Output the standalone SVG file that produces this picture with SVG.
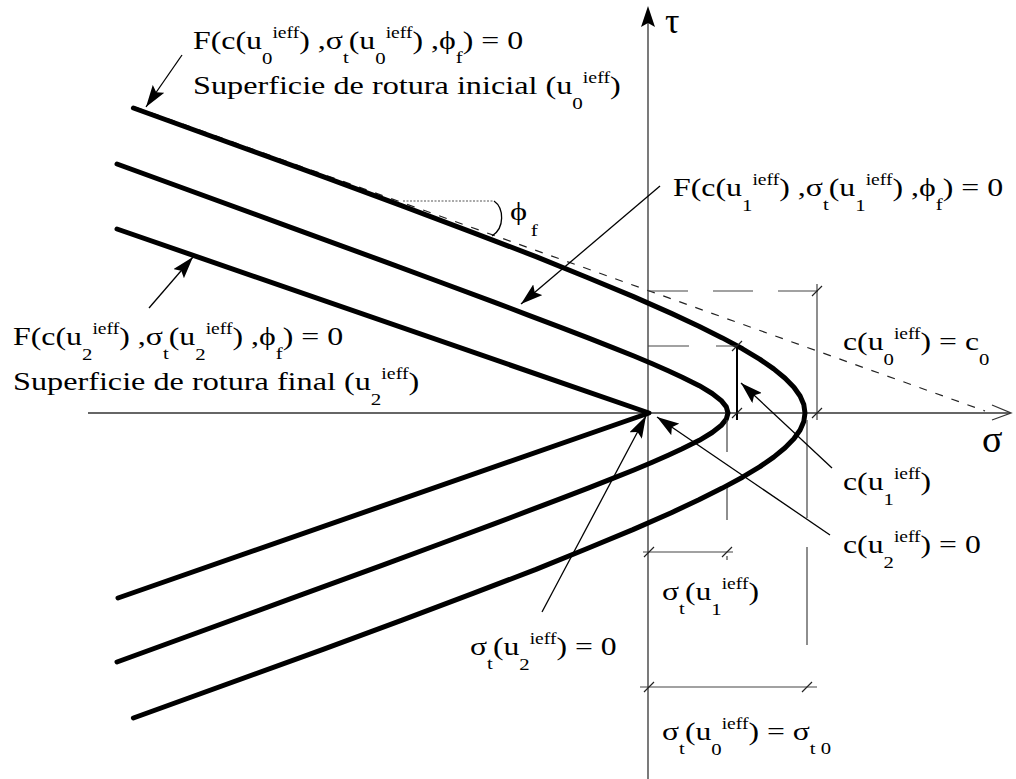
<svg xmlns="http://www.w3.org/2000/svg" width="1016" height="779" viewBox="0 0 1016 779">
<style>
text{font-family:"Liberation Serif","DejaVu Serif",serif;font-size:26px;fill:#000}
.sb{font-size:17px}
.sp{font-size:16px}
.crv{fill:none;stroke:#000;stroke-width:5;stroke-linejoin:round;stroke-linecap:round}
.ax{fill:none;stroke:#333;stroke-width:1.3}
.dim{fill:none;stroke:#444;stroke-width:1.2}
.ldr{fill:none;stroke:#000;stroke-width:1.3}
.tk{fill:none;stroke:#222;stroke-width:1.2}
</style>
<defs>
<marker id="ah" viewBox="0 0 22 14" refX="22" refY="7" markerWidth="22" markerHeight="14" markerUnits="userSpaceOnUse" orient="auto">
<path d="M0,0 L22,7 L0,14 L4,7 z" fill="#000"/>
</marker>
</defs>

<g id="axes">
<line class="ax" x1="88" y1="413" x2="1010" y2="413"/>
<path class="ax" d="M992,405 L1011,413 L992,420"/>
<line class="ax" x1="648" y1="779" x2="648" y2="9"/>
<path d="M648,6 L655,27 L648,23 L641,27 z" fill="#000"/>
<text x="665" y="33" style="font-size:36px">τ</text>
<text x="982" y="452" style="font-size:38px">σ</text>
</g>

<g id="tangent">
<line x1="135" y1="107" x2="985" y2="411" stroke="#222" stroke-width="1.2" stroke-dasharray="8 9"/>
<line x1="403" y1="201" x2="494" y2="201" stroke="#555" stroke-width="1.2" stroke-dasharray="2 1.5"/>
<path d="M494,201 C504,208 505,228 492,236" fill="none" stroke="#000" stroke-width="1.3"/>
<text transform="translate(510,220) scale(1.25,1)">ϕ<tspan class="sb" dx="3" dy="16">f</tspan></text>
</g>

<g id="curve0">
<path class="crv" d="M133.4,108 L323.8,176.9 L402.8,206.1 L473.7,232.9 L536,256.6 L587.3,277.5 L632.9,296.4 L671.9,313.6 L698.9,326.2 L722.3,337.9 L742.5,348.8 L759.6,359.1 L773.7,368.9 L785.1,378.3 L793.9,387.2 L800.1,396 L803.8,404.5 L805,413 L803.8,421.5 L800.1,430 L793.9,438.8 L785.1,447.7 L773.7,457.1 L759.6,466.9 L742.5,477.2 L722.3,488.1 L698.9,499.8 L671.9,512.4 L632.9,529.6 L587.3,548.5 L536,569.4 L473.7,593.1 L402.8,619.9 L323.8,649.1 L133.4,718"/>
</g>
<g id="curve1">
<path class="crv" d="M117,164 L290.8,227.3 L384,261.4 L442.5,283 L492.7,301.7 L528.9,315.3 L560.7,327.3 L588.1,337.9 L612.8,347.6 L634.5,356.3 L652.3,363.8 L668.2,370.7 L681.7,376.9 L699.3,385.7 L712.2,393.5 L721.1,400.4 L726.3,406.8 L728,413 L726.3,419.2 L721.1,425.6 L712.2,432.5 L699.3,440.3 L681.7,449.1 L668.2,455.3 L652.3,462.2 L634.5,469.7 L612.8,478.4 L588.1,488.1 L560.7,498.7 L528.9,510.7 L492.7,524.3 L442.5,543 L384,564.6 L290.8,598.7 L117,662"/>
</g>
<g id="curve2">
<path class="crv" d="M117,229 L649,413 L118,598"/>
</g>

<g id="dimensions">
<line class="dim" x1="648" y1="291" x2="820" y2="291" stroke-dasharray="40 25"/>
<line class="dim" x1="817" y1="284" x2="817" y2="420"/>
<line class="dim" x1="648" y1="346" x2="737" y2="346" stroke-dasharray="41 27"/>
<line x1="737" y1="346" x2="737" y2="420" stroke="#000" stroke-width="2"/>
<line class="dim" x1="727" y1="420" x2="727" y2="560" stroke-dasharray="32 36"/>
<line class="dim" x1="643" y1="552" x2="733" y2="552"/>
<line class="dim" x1="807" y1="420" x2="807" y2="655" stroke-dasharray="98 29"/>
<line class="dim" x1="640" y1="687" x2="817" y2="687"/>
<path class="tk" d="M812,296 L822,286 M812,418 L822,408 M732,351 L742,341 M732,418 L742,408 M644,557 L654,547 M722,557 L732,547 M644,692 L654,682 M802,692 L812,682"/>
</g>

<g id="connectors">
<line class="ldr" x1="182" y1="55" x2="146" y2="107" marker-end="url(#ah)"/>
<line class="ldr" x1="660" y1="186" x2="521" y2="304" marker-end="url(#ah)"/>
<line class="ldr" x1="149" y1="308" x2="193" y2="257" marker-end="url(#ah)"/>
<line class="ldr" x1="542" y1="612" x2="646" y2="416" marker-end="url(#ah)"/>
<line class="ldr" x1="830" y1="535" x2="657" y2="417" marker-end="url(#ah)"/>
<line class="ldr" x1="832" y1="468" x2="741" y2="383" marker-end="url(#ah)"/>
</g>

<g id="label-initial">
<text transform="translate(193,49) scale(1.225,1)">F(c(u<tspan class="sb" dy="15">0</tspan><tspan class="sp" dy="-26">ieff</tspan><tspan dy="11">) ,σ</tspan><tspan class="sb" dy="14">t</tspan><tspan dy="-14">(u</tspan><tspan class="sb" dy="15">0</tspan><tspan class="sp" dy="-26">ieff</tspan><tspan dy="11">) ,ϕ</tspan><tspan class="sb" dy="14">f</tspan><tspan dy="-14">) = 0</tspan></text>
<text transform="translate(193,94) scale(1.24,1)">Superficie de rotura inicial (u<tspan class="sb" dy="15">0</tspan><tspan class="sp" dy="-26">ieff</tspan><tspan dy="11">)</tspan></text>
</g>

<g id="label-u1">
<text transform="translate(673,196) scale(1.225,1)">F(c(u<tspan class="sb" dy="15">1</tspan><tspan class="sp" dy="-26">ieff</tspan><tspan dy="11">) ,σ</tspan><tspan class="sb" dy="14">t</tspan><tspan dy="-14">(u</tspan><tspan class="sb" dy="15">1</tspan><tspan class="sp" dy="-26">ieff</tspan><tspan dy="11">) ,ϕ</tspan><tspan class="sb" dy="14">f</tspan><tspan dy="-14">) = 0</tspan></text>
</g>

<g id="label-final">
<text transform="translate(13,345) scale(1.225,1)">F(c(u<tspan class="sb" dy="15">2</tspan><tspan class="sp" dy="-26">ieff</tspan><tspan dy="11">) ,σ</tspan><tspan class="sb" dy="14">t</tspan><tspan dy="-14">(u</tspan><tspan class="sb" dy="15">2</tspan><tspan class="sp" dy="-26">ieff</tspan><tspan dy="11">) ,ϕ</tspan><tspan class="sb" dy="14">f</tspan><tspan dy="-14">) = 0</tspan></text>
<text transform="translate(13,390) scale(1.24,1)">Superficie de rotura final (u<tspan class="sb" dy="15">2</tspan><tspan class="sp" dy="-26">ieff</tspan><tspan dy="11">)</tspan></text>
</g>

<g id="label-c0">
<text transform="translate(843,350) scale(1.22,1)">c(u<tspan class="sb" dy="15">0</tspan><tspan class="sp" dy="-26">ieff</tspan><tspan dy="11">) = c</tspan><tspan class="sb" dy="15">0</tspan></text>
</g>
<g id="label-cu1">
<text transform="translate(843,490) scale(1.22,1)">c(u<tspan class="sb" dy="15">1</tspan><tspan class="sp" dy="-26">ieff</tspan><tspan dy="11">)</tspan></text>
</g>
<g id="label-cu2">
<text transform="translate(843,553) scale(1.22,1)">c(u<tspan class="sb" dy="15">2</tspan><tspan class="sp" dy="-26">ieff</tspan><tspan dy="11">) = 0</tspan></text>
</g>
<g id="label-st1">
<text transform="translate(662,600) scale(1.22,1)">σ<tspan class="sb" dy="14">t</tspan><tspan dy="-14">(u</tspan><tspan class="sb" dy="15">1</tspan><tspan class="sp" dy="-26">ieff</tspan><tspan dy="11">)</tspan></text>
</g>
<g id="label-st2">
<text transform="translate(470,655) scale(1.22,1)">σ<tspan class="sb" dy="14">t</tspan><tspan dy="-14">(u</tspan><tspan class="sb" dy="15">2</tspan><tspan class="sp" dy="-26">ieff</tspan><tspan dy="11">) = 0</tspan></text>
</g>
<g id="label-st0">
<text transform="translate(662,740) scale(1.22,1)">σ<tspan class="sb" dy="14">t</tspan><tspan dy="-14">(u</tspan><tspan class="sb" dy="15">0</tspan><tspan class="sp" dy="-26">ieff</tspan><tspan dy="11">) = σ</tspan><tspan class="sb" dy="14">t 0</tspan></text>
</g>
</svg>
